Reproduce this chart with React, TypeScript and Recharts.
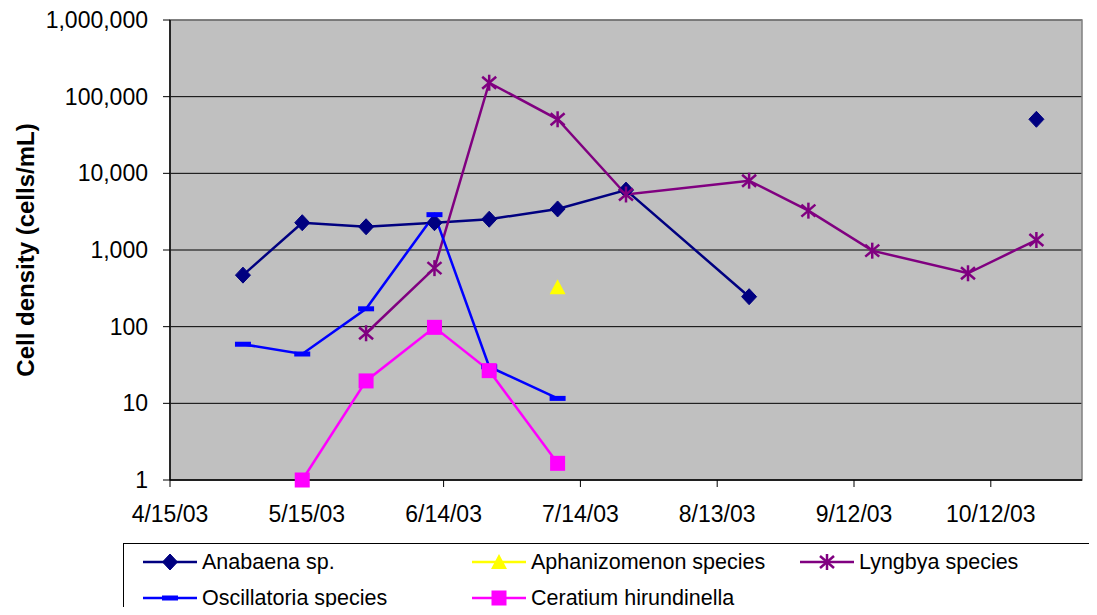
import React from 'react';
import { LineChart, Line, XAxis, YAxis, CartesianGrid, ReferenceArea } from 'recharts';

// Sampling dates (m/d/yy) and cell densities (cells/mL); null = not detected / not sampled
const sampleDates = ['5/1/03', '5/14/03', '5/28/03', '6/12/03', '6/24/03', '7/9/03', '7/24/03', '8/20/03', '9/2/03', '9/16/03', '10/7/03', '10/22/03'];
const anabaena = [470, 2270, 2010, 2270, 2520, 3430, 6040, 246, null, null, null, 50700];
const aphanizomenon = [null, null, null, null, null, 326, null, null, null, null, null, null];
const lyngbya = [null, null, 82, 580, 152000, 50700, 5300, 8020, 3260, 980, 497, 1350];
const oscillatoria = [59, 44, 171, 2890, 30, 11.6, null, null, null, null, null, null];
const ceratium = [null, 1, 19.6, 98, 26.7, 1.65, null, null, null, null, null, null];

// Axis ticks
const xTickLabels = ['4/15/03', '5/15/03', '6/14/03', '7/14/03', '8/13/03', '9/12/03', '10/12/03'];
const xAxisEnd = '11/1/03';
const yTicks = [1, 10, 100, 1000, 10000, 100000, 1000000];

const FONT = '"Liberation Sans", Arial, sans-serif';
const DAY = 86400000;
const toUtc = (s: string) => {
  const [m, d, y] = s.split('/').map(Number);
  return Date.UTC(2000 + y, m - 1, d);
};
const origin = toUtc(xTickLabels[0]);
const dayOf = (s: string) => Math.round((toUtc(s) - origin) / DAY);
const labelByDay: Record<number, string> = {};
xTickLabels.forEach((l) => (labelByDay[dayOf(l)] = l));

const rows = sampleDates.map((date, i) => ({
  day: dayOf(date),
  anabaena: anabaena[i],
  aphanizomenon: aphanizomenon[i],
  lyngbya: lyngbya[i],
  oscillatoria: oscillatoria[i],
  ceratium: ceratium[i],
}));

type Shape = 'diamond' | 'triangle' | 'star' | 'dash' | 'square';

function Marker({ shape, cx, cy, color }: { shape: Shape; cx: number; cy: number; color: string }) {
  switch (shape) {
    case 'diamond':
      return <polygon points={`${cx},${cy - 8} ${cx + 7.5},${cy} ${cx},${cy + 8} ${cx - 7.5},${cy}`} fill={color} stroke={color} strokeWidth={1} />;
    case 'triangle':
      return <polygon points={`${cx},${cy - 8} ${cx + 8},${cy + 7} ${cx - 8},${cy + 7}`} fill={color} />;
    case 'square':
      return <rect x={cx - 7.5} y={cy - 7.5} width={15} height={15} fill={color} />;
    case 'dash':
      return <rect x={cx - 8} y={cy - 2.5} width={16} height={5} fill={color} />;
    case 'star':
      return (
        <g stroke={color} strokeWidth={2.5}>
          <line x1={cx} y1={cy - 8} x2={cx} y2={cy + 8} />
          <line x1={cx - 7} y1={cy - 6} x2={cx + 7} y2={cy + 6} />
          <line x1={cx - 7} y1={cy + 6} x2={cx + 7} y2={cy - 6} />
        </g>
      );
  }
  return null;
}

const series: { key: string; name: string; color: string; shape: Shape }[] = [
  { key: 'anabaena', name: 'Anabaena sp.', color: '#000080', shape: 'diamond' },
  { key: 'aphanizomenon', name: 'Aphanizomenon species', color: '#FFFF00', shape: 'triangle' },
  { key: 'lyngbya', name: 'Lyngbya species', color: '#800080', shape: 'star' },
  { key: 'oscillatoria', name: 'Oscillatoria species', color: '#0000FF', shape: 'dash' },
  { key: 'ceratium', name: 'Ceratium hirundinella', color: '#FF00FF', shape: 'square' },
];

const legendCols = [20, 349, 677];
const legendRows = [19, 55];

function LegendBox() {
  return (
    <svg width={974} height={72} style={{ position: 'absolute', left: 123, top: 543 }}>
      <rect x={0.5} y={0.5} width={1000} height={100} fill="#fff" stroke="#000" strokeWidth={1} />
      {series.map((s, i) => {
        const x = legendCols[i % 3];
        const y = legendRows[Math.floor(i / 3)];
        return (
          <g key={s.key}>
            <line x1={x} y1={y} x2={x + 54} y2={y} stroke={s.color} strokeWidth={2.5} />
            <Marker shape={s.shape} cx={x + 27} cy={y} color={s.color} />
            <text x={x + 59} y={y} dominantBaseline="central" fontSize={21.5} fontFamily={FONT} fill="#000">
              {s.name}
            </text>
          </g>
        );
      })}
    </svg>
  );
}

export default function App() {
  return (
    <div style={{ position: 'relative', width: 1097, height: 615, margin: -8, background: '#fff', fontFamily: FONT, overflow: 'hidden' }}>
      <LineChart width={1097} height={615} data={rows} margin={{ top: 20, right: 15, left: 0, bottom: 95 }}>
        <CartesianGrid horizontal vertical={false} fill="#C0C0C0" stroke="#000" strokeOpacity={1} />
        <ReferenceArea
          x1={0}
          x2={dayOf(xAxisEnd)}
          y1={1}
          y2={1000000}
          fill="none"
          stroke="#808080"
          strokeWidth={1.5}
          ifOverflow="visible"
        />
        <XAxis
          type="number"
          dataKey="day"
          domain={[0, dayOf(xAxisEnd)]}
          ticks={xTickLabels.map(dayOf)}
          tickFormatter={(v: number) => labelByDay[v] ?? ''}
          height={40}
          tickSize={7}
          tickMargin={19}
          axisLine={{ stroke: '#000', strokeWidth: 1.5 }}
          tickLine={{ stroke: '#000' }}
          tick={{ fontSize: 23, fill: '#000', fontFamily: FONT }}
          interval={0}
        />
        <YAxis
          type="number"
          scale="log"
          domain={[1, 1000000]}
          ticks={yTicks}
          width={170}
          tickSize={7}
          tickMargin={15}
          interval={0}
          tickFormatter={(v: number) => v.toLocaleString('en-US')}
          axisLine={{ stroke: '#000', strokeWidth: 1.5 }}
          tickLine={{ stroke: '#000' }}
          tick={{ fontSize: 23, fill: '#000', fontFamily: FONT }}
          label={{
            content: (props: any) => {
              const vb = props.viewBox || { x: 0, y: 20, height: 460 };
              const cx = vb.x + 25;
              const cy = vb.y + vb.height / 2;
              return (
                <text
                  x={cx}
                  y={cy}
                  transform={`rotate(-90, ${cx}, ${cy})`}
                  textAnchor="middle"
                  dominantBaseline="central"
                  fontSize={24}
                  fontWeight="bold"
                  fontFamily={FONT}
                  fill="#000"
                >
                  Cell density (cells/mL)
                </text>
              );
            },
          }}
        />
        {series.map((s) => (
          <Line
            key={s.key}
            type="linear"
            dataKey={s.key}
            name={s.name}
            stroke={s.color}
            strokeWidth={2.5}
            connectNulls={false}
            isAnimationActive={false}
            activeDot={false}
            dot={(p: any) =>
              p.cx == null || p.cy == null || p.value == null ? (
                <g key={`${s.key}-${p.index}`} />
              ) : (
                <g key={`${s.key}-${p.index}`}>
                  <Marker shape={s.shape} cx={p.cx} cy={p.cy} color={s.color} />
                </g>
              )
            }
          />
        ))}
      </LineChart>
      <LegendBox />
    </div>
  );
}
